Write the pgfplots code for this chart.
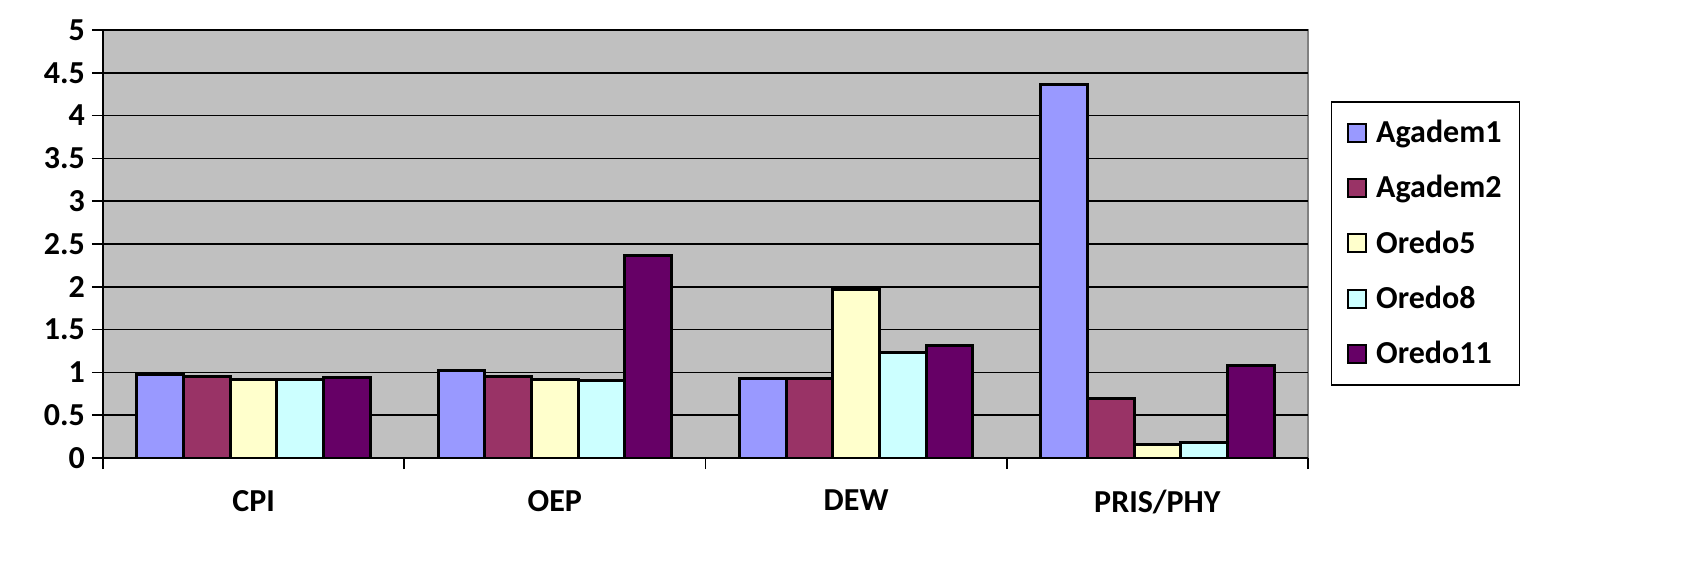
\documentclass[border=0pt]{standalone}
\usepackage{fontspec}
\setmainfont{Carlito}
\usepackage{pgfplots}
\pgfplotsset{compat=1.18}

\definecolor{agademA}{HTML}{9999FF}
\definecolor{agademB}{HTML}{993366}
\definecolor{oredoA}{HTML}{FFFFCC}
\definecolor{oredoB}{HTML}{CCFFFF}
\definecolor{oredoC}{HTML}{660066}
\definecolor{plotbg}{HTML}{C0C0C0}
\definecolor{frame}{HTML}{808080}

\begin{document}
\begin{tikzpicture}
\useasboundingbox (-51.5bp,-52.5bp) rectangle (797.5bp,229bp);
\begin{axis}[
  at={(0,0)}, anchor=south west,
  scale only axis,
  width=602.5bp, height=214bp,
  font=\fontsize{16bp}{19bp}\selectfont\bfseries,
  ybar=0pt, bar width=0.155,
  xmin=-0.5, xmax=3.5,
  ymin=0, ymax=5,
  ytick={0,0.5,...,5},
  yticklabel style={/pgf/number format/assume math mode=true,
    /pgf/number format/fixed, font=\fontsize{16bp}{19bp}\selectfont\bfseries},
  xtick={-0.5,0.5,1.5,2.5,3.5},
  xticklabels={},
  extra x ticks={0,1,2,3},
  extra x tick labels={CPI,OEP,DEW,PRIS/PHY},
  extra x tick style={tick style={draw=none},
    xticklabel style={yshift=-7bp}},
  tick align=outside,
  major tick length=5.5bp,
  tick style={black, line width=0.8bp},
  axis lines*=left,
  axis line style={black, line width=0.8bp, -},
  axis background/.style={fill=plotbg, draw=frame, line width=1bp},
  ymajorgrids,
  major grid style={black, line width=0.8bp},
  legend style={at={(1.019,0.834)}, anchor=north west,
    draw=black, line width=0.8bp, fill=white,
    inner xsep=7.5bp, inner ysep=7bp, row sep=11bp,
    nodes={inner xsep=1.5bp},
    font=\fontsize{16bp}{19bp}\selectfont\bfseries},
  legend cell align=left,
  legend image code/.code={
    \draw[#1, line width=1bp] (0bp,-4.5bp) rectangle (9bp,4.5bp);
    \path (12bp,0bp);},
]
\addplot[fill=agademA, draw=black, line width=1.5bp]
  coordinates {(0,0.98) (1,1.025) (2,0.925) (3,4.36)};
\addplot[fill=agademB, draw=black, line width=1.5bp]
  coordinates {(0,0.955) (1,0.955) (2,0.925) (3,0.69)};
\addplot[fill=oredoA, draw=black, line width=1.5bp]
  coordinates {(0,0.92) (1,0.915) (2,1.965) (3,0.16)};
\addplot[fill=oredoB, draw=black, line width=1.5bp]
  coordinates {(0,0.92) (1,0.90) (2,1.23) (3,0.185)};
\addplot[fill=oredoC, draw=black, line width=1.5bp]
  coordinates {(0,0.935) (1,2.36) (2,1.31) (3,1.085)};
\legend{Agadem1,Agadem2,Oredo5,Oredo8,Oredo11}
\end{axis}
\end{tikzpicture}
\end{document}
